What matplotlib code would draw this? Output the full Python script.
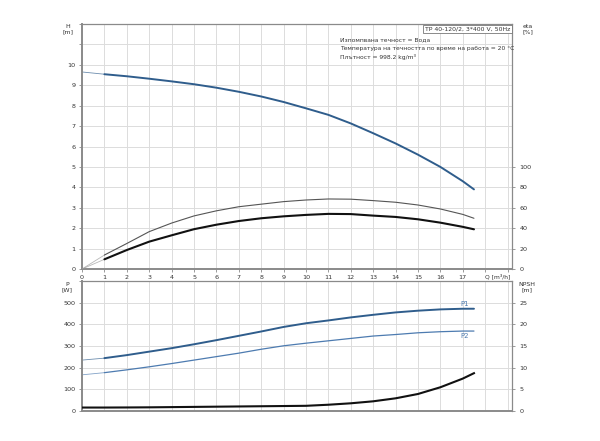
import matplotlib
matplotlib.use("Agg")
import matplotlib.pyplot as plt

plt.rcParams.update({
    "font.family": ["DejaVu Sans"],
    "font.size": 4.5,
    "xtick.labelsize": 4.6,
    "ytick.labelsize": 4.6,
})

# flow points [m3/h]
q = [0, 1, 2, 3, 4, 5, 6, 7, 8, 9, 10, 11, 12, 13, 14, 15, 16, 17, 17.5]
# head [m]
head = [9.65, 9.54, 9.44, 9.32, 9.19, 9.05, 8.88, 8.68, 8.45, 8.18, 7.87,
        7.55, 7.13, 6.65, 6.15, 5.6, 5.0, 4.3, 3.9]
# efficiencies [%]
eta_pump = [0, 13.7, 25, 36.6, 45, 52, 57, 61, 63.5, 66, 67.6, 68.6, 68.4,
            67, 65.4, 62.7, 58.8, 53.5, 49.7]
eta_total = [0, 9.5, 18.6, 26.8, 33, 39, 43.4, 47, 49.7, 51.6, 53, 54, 53.8,
             52.3, 51, 48.7, 45.4, 41.3, 38.9]
# power [W]
p1 = [235, 244, 258, 274, 290, 308, 327, 347, 367, 388, 405, 418, 432, 444,
      455, 463, 469, 472, 472]
p2 = [167, 177, 190, 204, 219, 235, 251, 267, 285, 301, 313, 324, 335, 346,
      353, 361, 366, 369, 369]
# NPSH [m]
npsh = [0.8, 0.8, 0.82, 0.85, 0.9, 0.95, 1.0, 1.05, 1.1, 1.15, 1.2, 1.45,
        1.78, 2.24, 2.93, 3.93, 5.48, 7.48, 8.73]

BLUE = "#2f5d8c"
LIGHT_BLUE = "#4d7bb0"
GRID = "#dcdcdc"
SPINE = "#8a8a8a"
TXT = "#333333"


def curve(ax, y, color, lw, thin_color=None):
    # thin extrapolated part from 0 to 1, solid part from 1 on
    ax.plot(q[:2], y[:2], color=thin_color or color, lw=0.6, alpha=0.7)
    ax.plot(q[1:], y[1:], color=color, lw=lw, solid_capstyle="round")


def style(ax):
    ax.set_xlim(0, 19.2)
    ax.set_xticks(range(20))
    ax.grid(True, color=GRID, lw=0.7)
    ax.set_axisbelow(True)
    for s in ax.spines.values():
        s.set_color(SPINE)
        s.set_linewidth(0.9)
    ax.spines["left"].set_linewidth(1.4)
    ax.spines["bottom"].set_linewidth(1.4)
    ax.tick_params(length=2.5, width=0.6, color=SPINE, pad=2, labelcolor=TXT)


fig = plt.figure(figsize=(6, 4.41), dpi=100)

# upper: head and efficiency
ax1 = fig.add_axes([0.1367, 0.39, 0.7167, 0.5556])
style(ax1)
ax1.set_ylim(0, 12)
ax1.set_yticks(range(13))
ax1.set_yticklabels([str(v) if v <= 10 else "" for v in range(13)])
ax1.set_xticklabels([str(v) if v <= 17 else "" for v in range(20)])
curve(ax1, head, BLUE, 1.4)

ax1r = ax1.twinx()
ax1r.set_ylim(0, 240)
ax1r.set_yticks(range(0, 101, 20))
for s in ax1r.spines.values():
    s.set_visible(False)
ax1r.tick_params(length=2.5, width=0.6, color=SPINE, pad=3, labelcolor=TXT)
curve(ax1r, eta_pump, "#555555", 0.8, "#999999")
curve(ax1r, eta_total, "#111111", 1.5, "#999999")

# lower: power and NPSH
ax2 = fig.add_axes([0.1367, 0.068, 0.7167, 0.2948])
style(ax2)
ax2.set_ylim(0, 600)
ax2.set_yticks(range(0, 601, 100))
ax2.set_yticklabels([str(v) if v <= 500 else "" for v in range(0, 601, 100)])
ax2.tick_params(axis="x", length=0, labelbottom=False)
curve(ax2, p1, BLUE, 1.4)
curve(ax2, p2, LIGHT_BLUE, 0.9)
ax2.text(17.1, p1[-1] + 8, "P1", color=LIGHT_BLUE, fontsize=5, ha="center", va="bottom")
ax2.text(17.1, p2[-1] - 10, "P2", color=LIGHT_BLUE, fontsize=5, ha="center", va="top")

ax2r = ax2.twinx()
ax2r.set_ylim(0, 30)
ax2r.set_yticks(range(0, 26, 5))
for s in ax2r.spines.values():
    s.set_visible(False)
ax2r.tick_params(length=2.5, width=0.6, color=SPINE, pad=3, labelcolor=TXT)
ax2r.plot(q, npsh, color="#111111", lw=1.5)

# axis captions
caps = [(68, 24, "H\n[m]"), (528, 24, "eta\n[%]"),
        (67, 282, "P\n[W]"), (527, 282, "NPSH\n[m]")]
for x, y, s in caps:
    fig.text(x / 600, 1 - y / 441, s, fontsize=4.5, ha="center", va="top",
             color=TXT, linespacing=1.05)
fig.text(498 / 600, 1 - 276 / 441, "Q [m³/h]", fontsize=4.3, ha="center", va="center",
         color=TXT)

# info texts
fig.text(510 / 600, 1 - 29 / 441, "TP 40-120/2, 3*400 V, 50Hz", fontsize=4.4,
         ha="right", va="center", color=TXT,
         bbox=dict(boxstyle="square,pad=0.3", fc="white", ec="#777777", lw=0.6))
info = ["Изпомпвана течност = Вода",
        "Температура на течността по време на работа = 20 °C",
        "Плътност = 998.2 kg/m³"]
for i, line in enumerate(info):
    fig.text(340 / 600, 1 - (40 + i * 8.5) / 441, line, fontsize=4.3,
             ha="left", va="center", color=TXT)

fig.savefig("out.png", dpi=100)
